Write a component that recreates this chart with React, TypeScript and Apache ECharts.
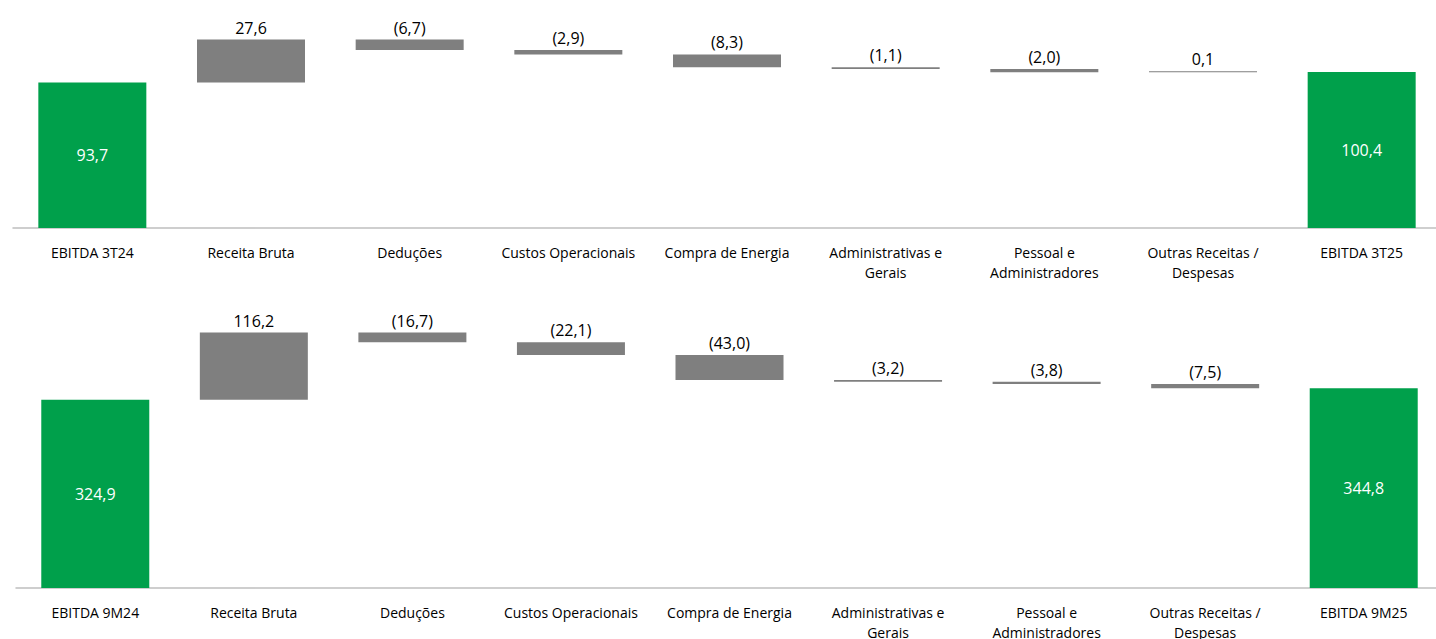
import React, { useEffect, useRef } from "react";
import * as echarts from "echarts";

const categoriesTop = [
  "EBITDA 3T24",
  "Receita Bruta",
  "Deduções",
  "Custos Operacionais",
  "Compra de Energia",
  "Administrativas e\nGerais",
  "Pessoal e\nAdministradores",
  "Outras Receitas /\nDespesas",
  "EBITDA 3T25",
];
const valuesTop = [93.7, 27.6, -6.7, -2.9, -8.3, -1.1, -2.0, 0.1, 100.4];

const categoriesBottom = [
  "EBITDA 9M24",
  "Receita Bruta",
  "Deduções",
  "Custos Operacionais",
  "Compra de Energia",
  "Administrativas e\nGerais",
  "Pessoal e\nAdministradores",
  "Outras Receitas /\nDespesas",
  "EBITDA 9M25",
];
const valuesBottom = [324.9, 116.2, -16.7, -22.1, -43.0, -3.2, -3.8, -7.5, 344.8];

const GREEN = "#00A04B";
const GRAY = "#7F7F7F";
const FONT = "'Segoe UI', 'Open Sans', sans-serif";

function fmt(v: number): string {
  const s = Math.abs(v).toFixed(1).replace(".", ",");
  return v < 0 ? `(${s})` : s;
}

function buildWaterfall(values: number[]) {
  const base: any[] = [];
  const bars: any[] = [];
  let running = 0;
  values.forEach((v, i) => {
    const isTotal = i === 0 || i === values.length - 1;
    if (isTotal) {
      base.push(0);
      bars.push({
        value: v,
        itemStyle: { color: GREEN },
        label: {
          show: true,
          position: "inside",
          color: "#ffffff",
          fontSize: 16,
          fontFamily: FONT,
          formatter: () => fmt(v),
        },
      });
      running = v;
    } else {
      const low = v >= 0 ? running : running + v;
      base.push(low);
      bars.push({
        value: Math.abs(v),
        itemStyle: { color: GRAY },
        label: {
          show: true,
          position: "top",
          distance: 4,
          color: "#000000",
          fontSize: 16,
          fontFamily: FONT,
          formatter: () => fmt(v),
        },
      });
      running += v;
    }
  });
  return { base, bars };
}

export default function App() {
  const ref = useRef<HTMLDivElement>(null);
  useEffect(() => {
    if (!ref.current) return;
    const chart = echarts.init(ref.current, undefined, { renderer: "svg" });
    const top = buildWaterfall(valuesTop);
    const bot = buildWaterfall(valuesBottom);
    const xAxisCommon = {
      type: "category" as const,
      axisTick: { show: false },
      axisLine: { show: true, lineStyle: { color: "#BFBFBF", width: 1.5 } },
      axisLabel: {
        interval: 0,
        margin: 14,
        fontSize: 14,
        lineHeight: 20,
        color: "#000000",
        fontFamily: FONT,
      },
    };
    const yAxisCommon = {
      type: "value" as const,
      show: false,
      min: 0,
      splitLine: { show: false },
    };
    chart.setOption({
      animation: false,
      grid: [
        { left: 13, width: 1428, top: 26, bottom: 411, outerBoundsMode: "none", containLabel: false },
        { left: 16, width: 1427, top: 310, bottom: 51, outerBoundsMode: "none", containLabel: false },
      ],
      xAxis: [
        { ...xAxisCommon, gridIndex: 0, data: categoriesTop },
        { ...xAxisCommon, gridIndex: 1, data: categoriesBottom },
      ],
      yAxis: [
        { ...yAxisCommon, gridIndex: 0, max: 130 },
        { ...yAxisCommon, gridIndex: 1, max: 480 },
      ],
      series: [
        {
          type: "bar",
          xAxisIndex: 0,
          yAxisIndex: 0,
          stack: "top",
          barWidth: 108,
          itemStyle: { color: "transparent" },
          silent: true,
          data: top.base,
        },
        {
          type: "bar",
          xAxisIndex: 0,
          yAxisIndex: 0,
          stack: "top",
          barWidth: 108,
          barMinHeight: 1,
          data: top.bars,
        },
        {
          type: "bar",
          xAxisIndex: 1,
          yAxisIndex: 1,
          stack: "bot",
          barWidth: 108,
          itemStyle: { color: "transparent" },
          silent: true,
          data: bot.base,
        },
        {
          type: "bar",
          xAxisIndex: 1,
          yAxisIndex: 1,
          stack: "bot",
          barWidth: 108,
          barMinHeight: 1,
          data: bot.bars,
        },
      ],
    });
    return () => chart.dispose();
  }, []);
  return (
    <div style={{ position: "absolute", left: 0, top: 0, width: 1436, height: 639, overflow: "hidden" }}>
      <div ref={ref} style={{ width: 1450, height: 639 }} />
    </div>
  );
}
